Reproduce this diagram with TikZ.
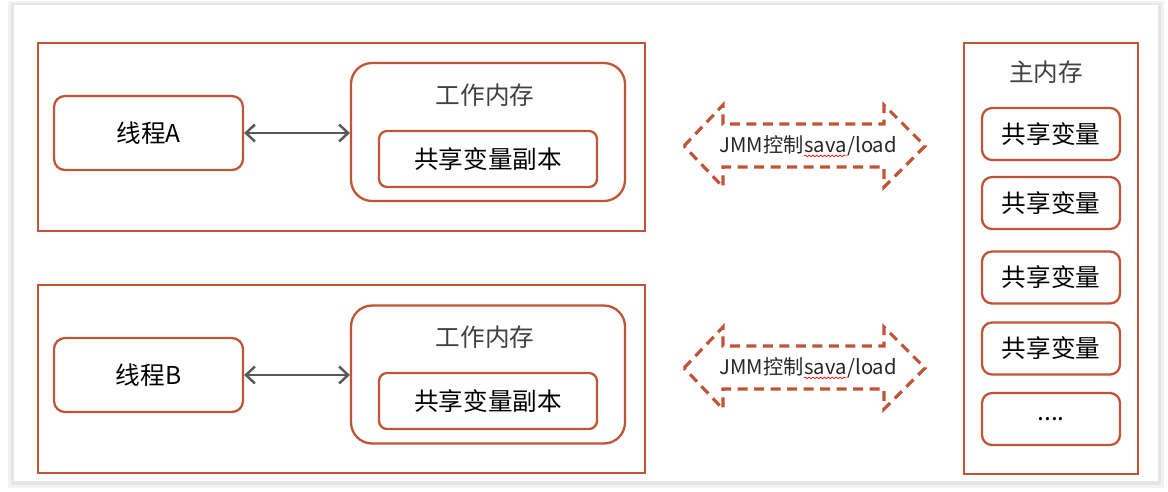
\documentclass[tikz,border=0pt]{standalone}
\usepackage{fontspec}
\setmainfont{Noto Sans CJK SC}
\usepackage{tikz}
\usetikzlibrary{arrows.meta}
\usetikzlibrary{decorations.pathmorphing}
\usetikzlibrary{positioning}
\definecolor{jmm_red}{RGB}{192,84,54}
\definecolor{jmm_gray}{RGB}{89,89,89}
\definecolor{jmm_title}{RGB}{64,64,64}
\tikzstyle{outer_box}=[draw=jmm_red, line width=1.3pt, minimum width=12.14cm, minimum height=3.76cm, inner sep=0pt]
\tikzstyle{thread_box}=[draw=jmm_red, line width=1.3pt, rounded corners=0.22cm, minimum width=3.78cm, minimum height=1.48cm, font=\fontsize{14}{16}\selectfont]
\tikzstyle{work_box}=[draw=jmm_red, line width=1.3pt, rounded corners=0.42cm, minimum width=5.48cm, minimum height=2.76cm]
\tikzstyle{copy_box}=[draw=jmm_red, line width=1.3pt, rounded corners=0.16cm, minimum width=4.36cm, minimum height=1.12cm, font=\fontsize{14}{16}\selectfont]
\tikzstyle{var_box}=[draw=jmm_red, line width=1.3pt, rounded corners=0.2cm, minimum width=2.76cm, minimum height=1.04cm, font=\fontsize{14}{16}\selectfont]
\tikzstyle{title_text}=[text=jmm_title, font=\fontsize{14}{16}\selectfont]
\tikzstyle{rw_arrow}=[draw=jmm_gray, line width=1.4pt, {Straight Barb[length=0.18cm,width=0.34cm]}-{Straight Barb[length=0.18cm,width=0.34cm]}]
\tikzstyle{jmm_arrow}=[draw=jmm_red, line width=1.8pt, dash pattern=on 0.2cm off 0.13cm]
\tikzstyle{label_jmm}=[font=\fontsize{11.5}{13}\selectfont, inner sep=0pt, text=black!85]
\tikzstyle{spell_mark}=[draw=red, line width=0.4pt, decorate, decoration={snake, amplitude=0.45pt, segment length=2.2pt}]

\begin{document}
\begin{tikzpicture}[x=0.02cm, y=-0.02cm]
\useasboundingbox (0,0) rectangle (1168,491);
% card with shadow
\fill[black!5] (8,1) rectangle (1164,488);
\fill[black!10] (11,3) rectangle (1161,485);
\fill[white] (14,5) rectangle (1158,481);

% thread A
\node[outer_box] (boxA) at (341.5,137) {};
\node[thread_box] (threadA) at (148.5,133) {线程A};
\node[work_box] (workA) at (488,132) {};
\node[title_text] (workTitleA) at (485,95) {工作内存};
\node[copy_box] (copyA) at (488,159) {共享变量副本};
\draw[rw_arrow] (threadA.east) -- (threadA.east -| workA.west);

% thread B
\node[outer_box] (boxB) at (341.5,379) {};
\node[thread_box] (threadB) at (148.5,375) {线程B};
\node[work_box] (workB) at (488,374.5) {};
\node[title_text] (workTitleB) at (485,337) {工作内存};
\node[copy_box] (copyB) at (488,401) {共享变量副本};
\draw[rw_arrow] (threadB.east) -- (threadB.east -| workB.west);

% JMM arrows
\draw[jmm_arrow] (684,146) -- (723,105) -- (723,124) -- (884,124) -- (884,105) -- (925,146)
  -- (884,187) -- (884,167) -- (723,167) -- (723,187) -- cycle;
\node[label_jmm, anchor=base east] (jmmA) at (804,152) {JMM控制};
\node[label_jmm, anchor=base west] (savaA) at (jmmA.base east) {sava};
\node[label_jmm, anchor=base west] (loadA) at (savaA.base east) {/load};
\draw[spell_mark] ([yshift=-2.2pt]savaA.base west) -- ([yshift=-2.2pt]savaA.base east);

\draw[jmm_arrow] (684,368) -- (723,327) -- (723,346) -- (884,346) -- (884,327) -- (925,368)
  -- (884,409) -- (884,389) -- (723,389) -- (723,409) -- cycle;
\node[label_jmm, anchor=base east] (jmmB) at (804,374) {JMM控制};
\node[label_jmm, anchor=base west] (savaB) at (jmmB.base east) {sava};
\node[label_jmm, anchor=base west] (loadB) at (savaB.base east) {/load};
\draw[spell_mark] ([yshift=-2.2pt]savaB.base west) -- ([yshift=-2.2pt]savaB.base east);

% main memory
\node[outer_box, minimum width=3.48cm, minimum height=8.62cm] (mainMem) at (1051,258.5) {};
\node[title_text] (mainTitle) at (1046,72) {主内存};
\node[var_box] (var1) at (1051,134) {共享变量};
\node[var_box] (var2) at (1051,203) {共享变量};
\node[var_box] (var3) at (1051,277.5) {共享变量};
\node[var_box] (var4) at (1051,348.5) {共享变量};
\node[var_box] (var5) at (1051,419) {....};
\end{tikzpicture}
\end{document}
